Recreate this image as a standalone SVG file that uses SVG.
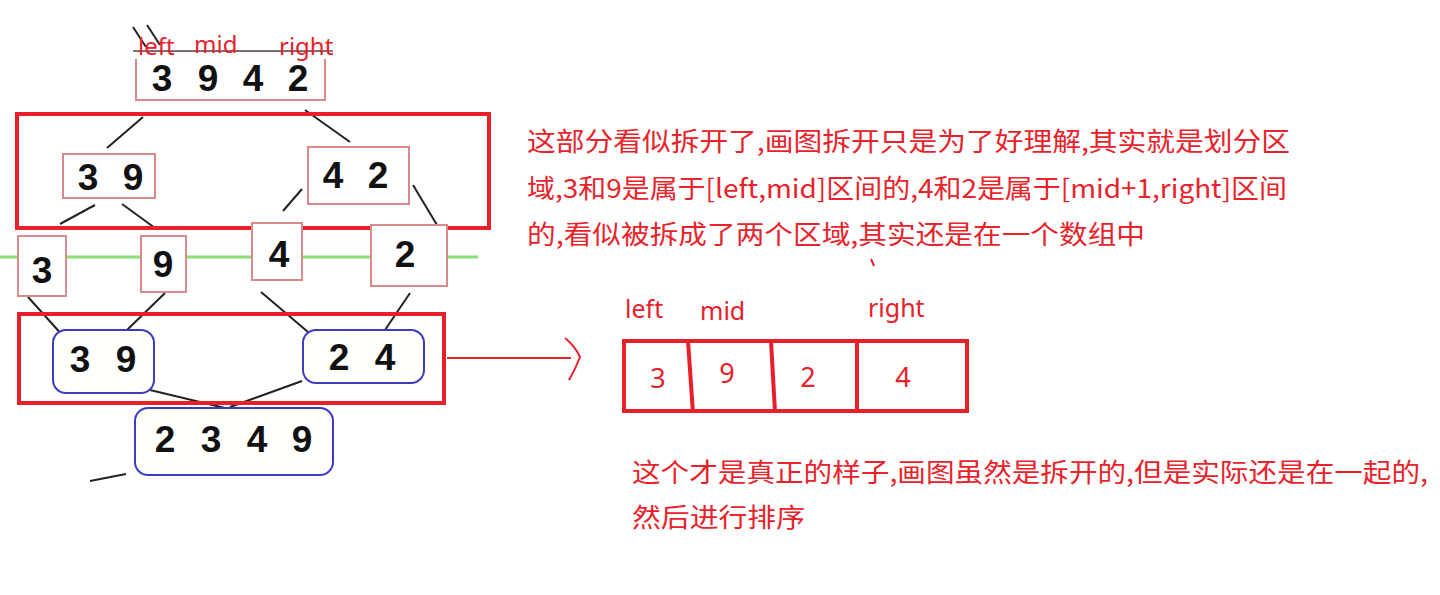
<svg xmlns="http://www.w3.org/2000/svg" width="1440" height="595" viewBox="0 0 1440 595">
<style>
.tb{fill:#fff;stroke:#d98a8a;stroke-width:2}
.rb{fill:#fffffb;stroke:#3c3cc0;stroke-width:2}
.d{font-family:"Liberation Sans",Arial,sans-serif;font-weight:bold;font-size:37px;fill:#111;text-anchor:middle}
.ln{stroke:#222;stroke-width:2;fill:none}
.frame{fill:none;stroke:#e8202a;stroke-width:4}
.rl{font-family:"Noto Sans","Liberation Sans",sans-serif;font-size:25px;fill:#e8202a}
.tl{font-family:"Noto Sans","Liberation Sans",sans-serif;font-size:24px;fill:#e8202a}
.cn{font-family:"Noto Sans CJK SC","Noto Sans",sans-serif;font-size:26px;fill:#e8232b}
.cell{font-family:"Noto Sans","Liberation Sans",sans-serif;font-size:27px;fill:#e8202a;text-anchor:middle}
</style>
<rect width="1440" height="595" fill="#fff"/>
<g id="connectors">
<path class="ln" d="M143 117 L107 148 M305 110 L350 142"/>
<path class="ln" d="M95 205 L60 224 M122 204 L155 228 M302 189 L283 211 M413 185 L437 225"/>
<path class="ln" d="M28 297 L64 337 M165 293 L127 330 M261 292 L308 332 M410 293 L385 330"/>
<path class="ln" d="M150 390 L225 408 M302 381 L230 407 M126 474 L90 481"/>
<line x1="0" y1="257" x2="478" y2="257" stroke="#6fdc5a" stroke-width="3" opacity="0.85"/>
<path d="M447 358 L571 358" stroke="#e8202a" stroke-width="2" fill="none"/>
<path d="M565 338 Q575 346 580 357 Q576 368 569 380" stroke="#e8202a" stroke-width="2" fill="none"/>
<path d="M871 259 L874 266" stroke="#e8202a" stroke-width="2"/>
</g>
<g id="frames">
<rect class="frame" x="17" y="114" width="472" height="114"/>
<rect class="frame" x="19" y="314" width="425" height="89"/>
</g>
<g id="n3942">
<rect class="tb" x="136" y="52" width="189" height="48"/>
<rect x="134" y="52" width="206" height="7" fill="#fff"/>
<path class="ln" d="M133 27 L146 47 M147 25 L160 45"/>
<line x1="133" y1="51" x2="333" y2="51" stroke="#555" stroke-width="1.5"/>
<text class="d" x="162" y="91">3</text><text class="d" x="208" y="91">9</text><text class="d" x="253" y="91">4</text><text class="d" x="298" y="91">2</text>
<text class="tl" x="138" y="55">left</text><text class="tl" x="194" y="53">mid</text><text class="tl" x="279" y="55">right</text>
</g>
<g id="n39"><rect class="tb" x="63" y="154" width="92" height="44"/><text class="d" x="88" y="190">3</text><text class="d" x="133" y="190">9</text></g>
<g id="n42"><rect class="tb" x="308" y="147" width="101" height="57"/><text class="d" x="333" y="188">4</text><text class="d" x="378" y="188">2</text></g>
<g id="l3"><rect class="tb" x="18" y="236" width="48" height="60"/><text class="d" x="42" y="283">3</text></g>
<g id="l9"><rect class="tb" x="141" y="236" width="45" height="56"/><text class="d" x="163" y="277">9</text></g>
<g id="l4"><rect class="tb" x="252" y="223" width="50" height="57"/><text class="d" x="279" y="267">4</text></g>
<g id="l2"><rect class="tb" x="371" y="225" width="76" height="61"/><text class="d" x="405" y="267">2</text></g>
<g id="m39"><rect class="rb" x="53" y="330" width="101" height="63" rx="13"/><text class="d" x="80" y="372">3</text><text class="d" x="126" y="372">9</text></g>
<g id="m24"><rect class="rb" x="303" y="330" width="121" height="53" rx="13"/><text class="d" x="339" y="370">2</text><text class="d" x="385" y="370">4</text></g>
<g id="m2349"><rect class="rb" x="135" y="408" width="198" height="67" rx="13"/><text class="d" x="165" y="452">2</text><text class="d" x="211" y="452">3</text><text class="d" x="257" y="452">4</text><text class="d" x="302" y="452">9</text></g>
<g id="array">
<rect class="frame" x="624" y="341" width="343" height="70"/>
<path d="M688 341 L693 413 M771 341 L775 412 M857 341 L857 411" stroke="#e8202a" stroke-width="4" fill="none"/>
<text class="rl" x="625" y="318">left</text><text class="rl" x="700" y="320">mid</text><text class="rl" x="868" y="317">right</text>
<text class="cell" x="658" y="388">3</text><text class="cell" x="727" y="383">9</text><text class="cell" x="808" y="387">2</text><text class="cell" x="903" y="387">4</text>
</g>
<g id="note1">
<text class="cn" x="527" y="151" textLength="763" lengthAdjust="spacingAndGlyphs">这部分看似拆开了,画图拆开只是为了好理解,其实就是划分区</text>
<text class="cn" x="527" y="198" textLength="760" lengthAdjust="spacingAndGlyphs">域,3和9是属于[left,mid]区间的,4和2是属于[mid+1,right]区间</text>
<text class="cn" x="527" y="244" textLength="618" lengthAdjust="spacingAndGlyphs">的,看似被拆成了两个区域,其实还是在一个数组中</text>
</g>
<g id="note2">
<text class="cn" x="632" y="482" textLength="796" lengthAdjust="spacingAndGlyphs">这个才是真正的样子,画图虽然是拆开的,但是实际还是在一起的,</text>
<text class="cn" x="632" y="527" textLength="173" lengthAdjust="spacingAndGlyphs">然后进行排序</text>
</g>
</svg>
